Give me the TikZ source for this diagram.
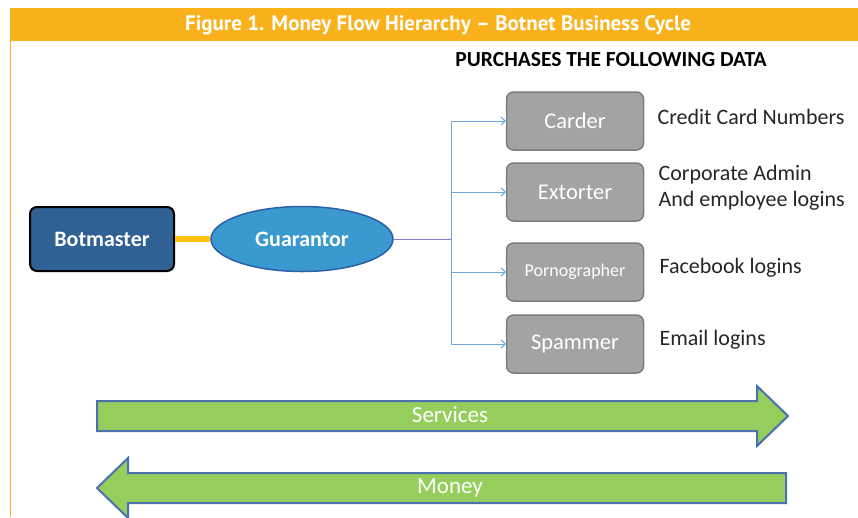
\documentclass[tikz,border=0pt]{standalone}
\usepackage{fontspec}
\setmainfont{Carlito}
\newfontfamily\headfont{PT Sans}
\usetikzlibrary{shapes.geometric}
\usetikzlibrary{arrows.meta}
\definecolor{headOrange}{HTML}{F9B11C}
\definecolor{botBlue}{HTML}{2F6195}
\definecolor{guarBlue}{HTML}{3A9AD0}
\definecolor{guarEdge}{HTML}{2B5FA6}
\definecolor{boxGray}{HTML}{A3A3A6}
\definecolor{boxEdge}{HTML}{7D7D80}
\definecolor{linkBlue}{HTML}{72A6DE}
\definecolor{trunkPurple}{HTML}{7F7FC9}
\definecolor{flowGreen}{HTML}{95CE5C}
\definecolor{arrowEdge}{HTML}{4A72B0}
\definecolor{linkOrange}{HTML}{FFC20E}

\begin{document}
\begin{tikzpicture}[x=1pt,y=-1pt,
  roleBox/.style={draw=boxEdge, fill=boxGray, line width=1.5pt, rounded corners=7pt,
    minimum width=137pt, minimum height=58pt, text=white, font=\fontsize{22.5}{24}\selectfont},
  dataText/.style={anchor=west, align=left, text=black!85, font=\fontsize{22}{26}\selectfont},
  feed/.style={draw=linkBlue, line width=1pt, -{Straight Barb[length=4pt,width=8pt]}},
  flowArrow/.style={draw=arrowEdge, fill=flowGreen, line width=2pt, line join=miter}]
\useasboundingbox (0,0) rectangle (858,517);

% header band
\fill[headOrange] (10,8) rectangle (858,41);
\draw[headOrange, line width=1pt] (10,41) -- (10,517);
\node[text=white, font=\headfont\bfseries\fontsize{21}{23}\selectfont] (title) at (438,25)
  {Figure 1. Money Flow Hierarchy – Botnet Business Cycle};
\node[font=\bfseries\fontsize{21.5}{24}\selectfont] (heading) at (611,60) {PURCHASES THE FOLLOWING DATA};

% left side
\node[draw=black, fill=botBlue, line width=2pt, rounded corners=7pt, minimum width=144pt,
  minimum height=64pt, text=white, font=\bfseries\fontsize{22}{24}\selectfont] (botmaster) at (102,239) {Botmaster};
\node[ellipse, draw=guarEdge, fill=guarBlue, line width=1.5pt, minimum width=182pt,
  minimum height=65pt, text=white, font=\bfseries\fontsize{22}{24}\selectfont] (guarantor) at (302,239) {Guarantor};
\draw[linkOrange, line width=6pt] (botmaster.east) -- (guarantor.west);

% buyers
\node[roleBox] (carder) at (575,121) {Carder};
\node[roleBox] (extorter) at (575,192) {Extorter};
\node[roleBox, font=\fontsize{18}{20}\selectfont] (porno) at (575,272) {Pornographer};
\node[roleBox] (spammer) at (575,344) {Spammer};

\node[dataText] (cards) at (654,117) {Credit Card Numbers};
\node[dataText] (admin) at (655,188) {Corporate Admin\\And employee logins};
\node[dataText] (facebook) at (656,268) {Facebook logins};
\node[dataText] (email) at (656,340) {Email logins};

% connectors
\coordinate (split) at (451,239);
\draw[trunkPurple, line width=1pt] (guarantor.east) -- (split);
\draw[linkBlue, line width=1pt] (split |- carder.west) -- (split |- spammer.west);
\draw[feed] (split |- carder.west) -- (carder.west);
\draw[feed] (split |- extorter.west) -- (extorter.west);
\draw[feed] (split |- porno.west) -- (porno.west);
\draw[feed] (split |- spammer.west) -- (spammer.west);

% flows
\draw[flowArrow] (97,401) -- (757,401) -- (757,386) -- (788,416) -- (757,446) -- (757,431) -- (97,431) -- cycle;
\node[text=white, font=\fontsize{23}{25}\selectfont] (services) at (450,415) {Services};
\draw[flowArrow] (786,473) -- (128,473) -- (128,458) -- (97,488) -- (128,518) -- (128,503) -- (786,503) -- cycle;
\node[text=white, font=\fontsize{23}{25}\selectfont] (money) at (450,488) {Money};
\end{tikzpicture}
\end{document}
